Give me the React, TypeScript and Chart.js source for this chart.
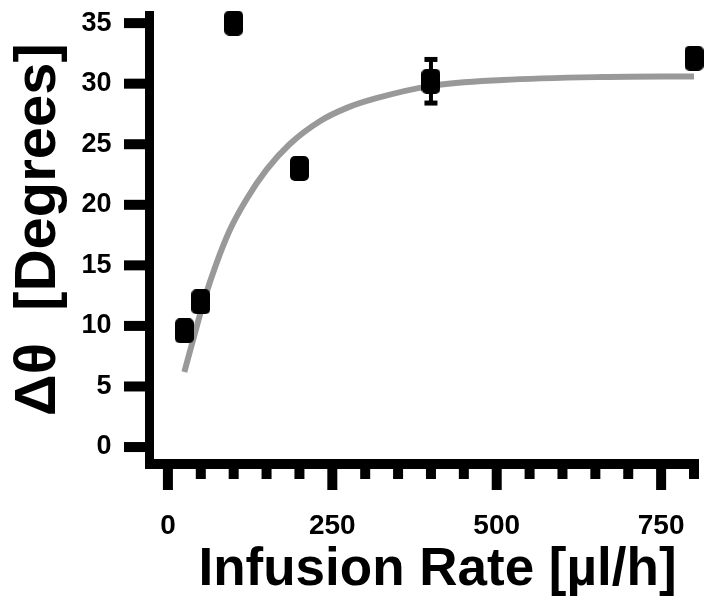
import React, { useEffect, useRef } from 'react';
import { Chart, registerables } from 'chart.js';

Chart.register(...registerables);

// Measured data
const rates = [25, 50, 100, 200, 400, 800];
const angles = [9.6, 12.0, 35.0, 23.0, 30.2, 32.1];
const angleErrors = [0, 0, 0, 0, 1.8, 0];

// Fitted curve
const fitRates = [25, 44, 56, 74, 94, 120, 150, 185, 231, 272, 317, 398, 509, 661, 800];
const fitAngles = [6.2, 10.0, 12.3, 15.2, 17.9, 20.5, 22.9, 25.0, 26.9, 28.0, 28.8, 29.8, 30.3, 30.55, 30.6];

// Axes
const xLabelTicks = [0, 250, 500, 750];
const xMinorTicks = [0, 50, 100, 150, 200, 250, 300, 350, 400, 450, 500, 550, 600, 650, 700, 750, 800];
const yTicks = [0, 5, 10, 15, 20, 25, 30, 35];
const xTitle = 'Infusion Rate [µl/h]';
const yTitle = 'Δθ  [Degrees]';

const FONT = "'Liberation Sans', Arial, sans-serif";

function makeMarker(): HTMLCanvasElement {
  const c = document.createElement('canvas');
  c.width = 19;
  c.height = 25;
  const g = c.getContext('2d')!;
  g.fillStyle = '#000';
  g.beginPath();
  (g as any).roundRect(0, 0, 19, 25, 5);
  g.fill();
  return c;
}

const axesPlugin = {
  id: 'customAxes',
  beforeDatasetsDraw(chart: any) {
    const { ctx, chartArea, scales } = chart;
    const xs = scales.x;
    const ys = scales.y;
    const left = chartArea.left;
    const bottom = chartArea.bottom;
    ctx.save();
    ctx.fillStyle = '#000';
    // y axis line
    ctx.fillRect(left - 4.5, chartArea.top, 9, bottom - chartArea.top + 5);
    // x axis line
    const xEnd = xs.getPixelForValue(800) + 5;
    ctx.fillRect(left - 4.5, bottom - 5, xEnd - (left - 4.5), 10);
    // y ticks
    yTicks.forEach((v) => {
      const py = ys.getPixelForValue(v);
      ctx.fillRect(left - 25.5, py - 5, 21, 10);
    });
    // x ticks
    xMinorTicks.forEach((v) => {
      const px = xs.getPixelForValue(v);
      const major = xLabelTicks.includes(v);
      ctx.fillRect(px - 5, bottom + 5, 10, major ? 21 : 10);
    });
    ctx.restore();
  },
  afterDatasetsDraw(chart: any) {
    const { ctx, scales } = chart;
    const xs = scales.x;
    const ys = scales.y;
    ctx.save();
    ctx.fillStyle = '#000';
    rates.forEach((r, i) => {
      const e = angleErrors[i];
      if (!e) return;
      const px = xs.getPixelForValue(r);
      const yt = ys.getPixelForValue(angles[i] + e);
      const yb = ys.getPixelForValue(angles[i] - e);
      ctx.fillRect(px - 2, yt, 4, yb - yt);
      ctx.fillRect(px - 6.5, yt - 2.5, 13, 5);
      ctx.fillRect(px - 6.5, yb - 2.5, 13, 5);
    });
    ctx.restore();
  },
  afterDraw(chart: any) {
    const { ctx } = chart;
    ctx.save();
    ctx.fillStyle = '#000';
    ctx.font = `bold 53px ${FONT}`;
    ctx.textAlign = 'center';
    ctx.textBaseline = 'alphabetic';
    ctx.fillText(xTitle, 437.5, 585);
    ctx.translate(55, 229.5);
    ctx.rotate(-Math.PI / 2);
    ctx.font = `bold 58px ${FONT}`;
    ctx.fillText(yTitle, 0, 0);
    ctx.restore();
  },
};

export default function App() {
  const ref = useRef<HTMLCanvasElement | null>(null);
  useEffect(() => {
    document.body.style.margin = '0';
    const marker = makeMarker();
    const chart = new Chart(ref.current!, {
      type: 'scatter',
      data: {
        datasets: [
          {
            label: 'Measured',
            data: rates.map((r, i) => ({ x: r, y: angles[i] })),
            pointStyle: marker as any,
            pointRadius: 10,
            backgroundColor: '#000',
            borderColor: '#000',
            showLine: false,
            clip: false,
          } as any,
          {
            label: 'Fit',
            type: 'line',
            data: fitRates.map((r, i) => ({ x: r, y: fitAngles[i] })),
            borderColor: '#999999',
            borderWidth: 6,
            pointRadius: 0,
            fill: false,
            cubicInterpolationMode: 'monotone',
            borderCapStyle: 'butt',
            clip: false,
          } as any,
        ],
      },
      options: {
        animation: false,
        responsive: true,
        maintainAspectRatio: false,
        layout: { padding: { top: 7, right: 17, left: 0, bottom: 0 } },
        plugins: {
          legend: { display: false },
          tooltip: { enabled: false },
          title: { display: false },
        },
        scales: {
          x: {
            type: 'linear',
            position: 'bottom',
            min: -28,
            max: 800,
            grid: { display: false, drawTicks: false },
            border: { display: false },
            afterBuildTicks: (s: any) => {
              s.ticks = xLabelTicks.map((v) => ({ value: v }));
            },
            afterFit: (s: any) => {
              s.height = 139;
              s.paddingLeft = 0;
              s.paddingRight = 0;
            },
            ticks: {
              padding: 45,
              color: '#000',
              font: { family: FONT, size: 28, weight: 'bold' },
              maxRotation: 0,
              autoSkip: false,
            },
          },
          y: {
            type: 'linear',
            min: -1.4,
            max: 36,
            grid: { display: false, drawTicks: false },
            border: { display: false },
            afterBuildTicks: (s: any) => {
              s.ticks = yTicks.map((v) => ({ value: v }));
            },
            afterFit: (s: any) => {
              s.width = 149.5;
              s.paddingTop = 0;
              s.paddingBottom = 0;
            },
            ticks: {
              padding: 38,
              color: '#000',
              font: { family: FONT, size: 27, weight: 'bold' },
              autoSkip: false,
            },
          },
        },
      },
      plugins: [axesPlugin],
    });
    return () => chart.destroy();
  }, []);
  return (
    <div style={{ position: 'fixed', left: 0, top: 0, width: 711, height: 603 }}>
      <canvas ref={ref} />
    </div>
  );
}
